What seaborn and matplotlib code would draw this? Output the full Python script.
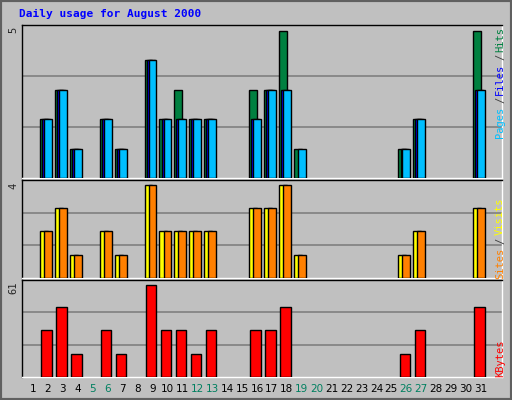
import matplotlib
matplotlib.use("Agg")
import matplotlib.pyplot as plt
import seaborn as sns
import numpy as np

days = list(range(1, 32))
hits   = [0,2,3,1,0,2,1,0,4,2,3,2,2,0,0,3,3,5,1,0,0,0,0,0,0,1,2,0,0,0,5]
files  = [0,2,3,1,0,2,1,0,4,2,2,2,2,0,0,2,3,3,0,0,0,0,0,0,0,1,2,0,0,0,3]
pages  = [0,2,3,1,0,2,1,0,4,2,2,2,2,0,0,2,3,3,1,0,0,0,0,0,0,1,2,0,0,0,3]
visits = [0,2,3,1,0,2,1,0,4,2,2,2,2,0,0,3,3,4,1,0,0,0,0,0,0,1,2,0,0,0,3]
sites  = [0,2,3,1,0,2,1,0,4,2,2,2,2,0,0,3,3,4,1,0,0,0,0,0,0,1,2,0,0,0,3]
kbytes = [0,31,46,15,0,31,15,0,61,31,31,15,31,0,0,31,31,46,0,0,0,0,0,0,0,15,31,0,0,0,46]
weekend = [5,6,12,13,19,20,26,27]

sns.set_style("white")
BG = "#C0C0C0"
fig = plt.figure(figsize=(5.12, 4.0), dpi=100, facecolor=BG)
W, H = 512, 400

def axes(top, bottom):
    a = fig.add_axes([22/W, 1-bottom/H, 480/W, (bottom-top)/H])
    a.set_facecolor(BG)
    for s in a.spines.values():
        s.set_color("black"); s.set_linewidth(1)
    a.spines["bottom"].set_color("white"); a.spines["right"].set_color("white")
    a.set_xlim(0.26, 32.4)
    return a

def bars(ax, vals, off, width, color):
    d = [x + off for x, v in zip(days, vals) if v > 0]
    v = [v for v in vals if v > 0]
    sns.barplot(x=d, y=v, native_scale=True, width=width, color=color,
                edgecolor="black", linewidth=1, saturation=1, ax=ax, zorder=3)

def grid(ax, mx):
    for f in (1/3, 2/3):
        ax.axhline(mx*f, color="#808080", lw=1.2, zorder=1)

ax1 = axes(25, 178)
grid(ax1, 5.2)
bars(ax1, hits, -0.27, 0.53, "#008040")
bars(ax1, files, -0.13, 0.53, "#0000FF")
bars(ax1, pages, 0.0, 0.53, "#00BFFF")
ax1.set_ylim(0, 5.2)

ax2 = axes(180, 278)
grid(ax2, 4.2)
bars(ax2, visits, -0.27, 0.53, "#FFFF00")
bars(ax2, sites, 0.0, 0.53, "#FF8000")
ax2.set_ylim(0, 4.2)

ax3 = axes(280, 377)
grid(ax3, 64)
bars(ax3, kbytes, -0.1, 0.7, "#FF0000")
ax3.set_ylim(0, 64)

for a in (ax1, ax2, ax3):
    a.set_xticks([]); a.set_yticks([]); a.set_xlabel(""); a.set_ylabel("")

mono = "DejaVu Sans Mono"
for d in days:
    fig.text((22 + (d-0.26)*14.93)/W, 1-389/H, str(d), ha="center", va="center",
             fontsize=7.5, color="#008060" if d in weekend else "black")

fig.text(19/W, 1-14/H, "Daily usage for August 2000", fontsize=8, color="#0000FF",
         fontweight="bold", family=mono, va="center")
for txt, y in (("5", 30), ("4", 186), ("61", 288)):
    fig.text(13/W, 1-y/H, txt, rotation=90, fontsize=7.5, ha="center", va="center", family=mono)

def vt(txt, y, c):
    fig.text(500/W, 1-y/H, txt, rotation=90, fontsize=7.5, color=c, ha="center", va="center", family=mono)
vt("Pages", 122, "#00BFFF"); vt("/", 100, "#404040"); vt("Files", 79, "#0000FF")
vt("/", 57, "#404040"); vt("Hits", 40, "#008040")
vt("Sites", 263, "#FF8000"); vt("/", 241, "#404040"); vt("Visits", 216, "#FFFF00")
vt("KBytes", 358, "#FF0000")

from matplotlib.patches import Rectangle
fig.patches.append(Rectangle((0, 0), 1, 1, transform=fig.transFigure, fill=False,
                             edgecolor="#606060", lw=3))
fig.savefig("out.png", dpi=100, facecolor=BG)
